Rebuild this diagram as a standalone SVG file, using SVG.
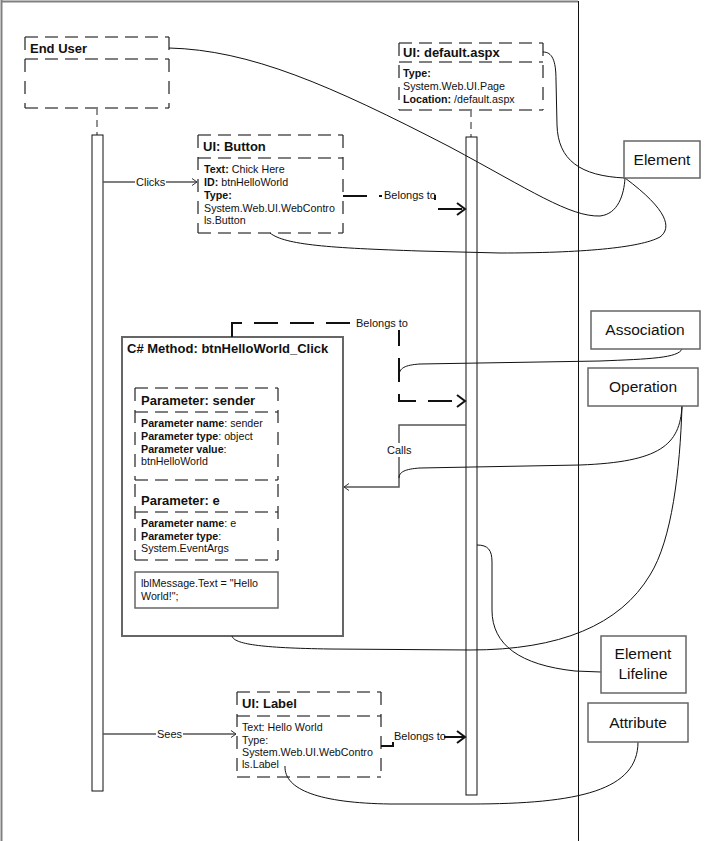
<svg xmlns="http://www.w3.org/2000/svg" width="718" height="841" viewBox="0 0 718 841">
<defs>
<style>
text{font-family:"Liberation Sans",Arial,sans-serif;fill:#111}
.h{font-size:13px;font-weight:bold}
.b{font-size:10.7px}
.bb{font-weight:bold}
.cl{font-size:11px}
.nl{font-size:15.5px;text-anchor:middle}
.dh{stroke:#808080;stroke-width:2;stroke-dasharray:13 7;fill:none}
.dv{stroke:#222;stroke-width:1.2;stroke-dasharray:13 9;fill:none}
.bg{fill:#fff;stroke:none}
.bar{fill:#fff;stroke:#111;stroke-width:1}
.ll{stroke:#222;stroke-width:1;stroke-dasharray:7 5;fill:none}
.msg{stroke:#555;stroke-width:1.5;fill:none}
.bel{stroke:#111;stroke-width:2;stroke-dasharray:24 12;fill:none}
.note{stroke:#111;stroke-width:1;fill:none}
.nbox{fill:#fff;stroke:#666;stroke-width:1.5}
.sbox{fill:#fff;stroke:#666;stroke-width:2}
</style>
<marker id="thin" markerUnits="userSpaceOnUse" markerWidth="10" markerHeight="10" refX="7" refY="5" orient="auto"><path d="M2,1.5 L7,5 L2,8.5" fill="none" stroke="#333" stroke-width="1"/></marker>
<marker id="thick" markerUnits="userSpaceOnUse" markerWidth="14" markerHeight="14" refX="10" refY="7" orient="auto"><path d="M2,1 L10,7 L2,13" fill="none" stroke="#111" stroke-width="2"/></marker>
</defs>
<rect width="718" height="841" fill="#fff"/>
<g id="frame">
<line x1="1.5" y1="0" x2="1.5" y2="841" stroke="#808080" stroke-width="2"/>
<line x1="1" y1="1.5" x2="578" y2="1.5" stroke="#808080" stroke-width="2"/>
<line x1="578.5" y1="1" x2="578.5" y2="841" stroke="#111" stroke-width="1"/>
</g>
<g id="lifelines">
<line class="ll" x1="97" y1="108" x2="97" y2="135"/>
<rect class="bar" x="92" y="135" width="11" height="656"/>
<line class="ll" x1="471" y1="110" x2="471" y2="137"/>
<rect class="bar" x="466" y="137" width="11" height="658"/>
</g>
<g id="end-user">
<rect class="bg" x="25" y="37" width="144" height="71"/>
<line class="dh" x1="25" y1="37" x2="169" y2="37"/>
<line class="dh" x1="25" y1="59" x2="169" y2="59"/>
<line class="dh" x1="25" y1="108" x2="169" y2="108"/>
<line class="dv" x1="25" y1="37" x2="25" y2="108"/>
<line class="dv" x1="169" y1="37" x2="169" y2="108"/>
<text class="h" x="30" y="53">End User</text>
</g>
<g id="ui-default">
<rect class="bg" x="399" y="43" width="144" height="67"/>
<line class="dh" x1="399" y1="43" x2="543" y2="43"/>
<line class="dh" x1="399" y1="62" x2="543" y2="62"/>
<line class="dh" x1="399" y1="110" x2="543" y2="110"/>
<line class="dv" x1="399" y1="43" x2="399" y2="110"/>
<line class="dv" x1="543" y1="43" x2="543" y2="110"/>
<text class="h" x="403" y="57">UI: default.aspx</text>
<text class="b" x="403" y="77"><tspan class="bb">Type:</tspan></text>
<text class="b" x="403" y="90">System.Web.UI.Page</text>
<text class="b" x="403" y="103"><tspan class="bb">Location:</tspan> /default.aspx</text>
</g>
<g id="ui-button">
<rect class="bg" x="198" y="135" width="145" height="98"/>
<line class="dh" x1="198" y1="135" x2="343" y2="135"/>
<line class="dh" x1="198" y1="158" x2="343" y2="158"/>
<line class="dh" x1="198" y1="233" x2="343" y2="233"/>
<line class="dv" x1="198" y1="135" x2="198" y2="233"/>
<line class="dv" x1="343" y1="135" x2="343" y2="233"/>
<text class="h" x="203" y="151">UI: Button</text>
<text class="b" x="204" y="173"><tspan class="bb">Text:</tspan> Chick Here</text>
<text class="b" x="204" y="186"><tspan class="bb">ID:</tspan> btnHelloWorld</text>
<text class="b" x="204" y="199"><tspan class="bb">Type:</tspan></text>
<text class="b" x="204" y="212">System.Web.UI.WebContro</text>
<text class="b" x="204" y="224">ls.Button</text>
</g>
<g id="method">
<rect class="sbox" x="122" y="337" width="221" height="299"/>
<text class="h" x="127" y="353">C# Method: btnHelloWorld_Click</text>
</g>
<g id="param-sender">
<rect class="bg" x="135" y="388" width="143" height="92"/>
<line class="dh" x1="135" y1="388" x2="278" y2="388"/>
<line class="dh" x1="135" y1="412" x2="278" y2="412"/>
<line class="dh" x1="135" y1="480" x2="278" y2="480"/>
<line class="dv" x1="135" y1="388" x2="135" y2="480"/>
<line class="dv" x1="278" y1="388" x2="278" y2="480"/>
<text class="h" x="141" y="405">Parameter: sender</text>
<text class="b" x="141" y="427"><tspan class="bb">Parameter name</tspan>: sender</text>
<text class="b" x="141" y="440"><tspan class="bb">Parameter type</tspan>: object</text>
<text class="b" x="141" y="453"><tspan class="bb">Parameter value</tspan>:</text>
<text class="b" x="141" y="465">btnHelloWorld</text>
</g>
<g id="param-e">
<line class="dh" x1="135" y1="512" x2="278" y2="512"/>
<line class="dh" x1="135" y1="560" x2="278" y2="560"/>
<line class="dv" x1="135" y1="484" x2="135" y2="560"/>
<line class="dv" x1="278" y1="484" x2="278" y2="560"/>
<text class="h" x="141" y="505">Parameter: e</text>
<text class="b" x="141" y="527"><tspan class="bb">Parameter name</tspan>: e</text>
<text class="b" x="141" y="540"><tspan class="bb">Parameter type</tspan>:</text>
<text class="b" x="141" y="552">System.EventArgs</text>
</g>
<g id="code">
<rect class="nbox" x="135" y="572" width="143" height="36"/>
<text class="b" x="141" y="587">lblMessage.Text = "Hello</text>
<text class="b" x="141" y="600">World!";</text>
</g>
<g id="ui-label">
<rect class="bg" x="237" y="692" width="144" height="85"/>
<line class="dh" x1="237" y1="692" x2="381" y2="692"/>
<line class="dh" x1="237" y1="716" x2="381" y2="716"/>
<line class="dh" x1="237" y1="777" x2="381" y2="777"/>
<line class="dv" x1="237" y1="692" x2="237" y2="777"/>
<line class="dv" x1="381" y1="692" x2="381" y2="777"/>
<text class="h" x="242" y="708">UI: Label</text>
<text class="b" x="242" y="731">Text: Hello World</text>
<text class="b" x="242" y="744">Type:</text>
<text class="b" x="242" y="756">System.Web.UI.WebContro</text>
<text class="b" x="242" y="768">ls.Label</text>
</g>
<g id="connectors">
<path class="msg" d="M103,182 H197" marker-end="url(#thin)"/>
<rect class="bg" x="135" y="175" width="31" height="13"/>
<text class="cl" x="136" y="186">Clicks</text>
<path class="msg" d="M103,734 H236" marker-end="url(#thin)"/>
<rect class="bg" x="156" y="727" width="27" height="13"/>
<text class="cl" x="157" y="738">Sees</text>
<path class="msg" d="M466,425 H399 V487 H344" marker-end="url(#thin)"/>
<rect class="bg" x="385" y="443" width="28" height="14"/>
<text class="cl" x="387" y="454">Calls</text>
<path class="bel" d="M343,196 H435 V209 H465" marker-end="url(#thick)"/>
<rect class="bg" x="382" y="188" width="52" height="14"/>
<text class="cl" x="384" y="199">Belongs to</text>
<path class="bel" d="M232,337 V323 H399 V401 H465" marker-end="url(#thick)"/>
<rect class="bg" x="354" y="315" width="53" height="15"/>
<text class="cl" x="356" y="327">Belongs to</text>
<path class="bel" d="M381,746 H393 V737 H465" stroke-dasharray="none" marker-end="url(#thick)"/>
<rect class="bg" x="392" y="729" width="52" height="13"/>
<text class="cl" x="394" y="740">Belongs to</text>
</g>
<g id="notes">
<path class="note" d="M169,48 C250,50 330,85 450,147 C530,190 570,217 600,216 C618,214 624,195 625,178"/>
<path class="note" d="M543,52 C552,52 556,60 556,80 L557,125 C558,160 580,176 625,178"/>
<path class="note" d="M270,233 C285,245 330,248 420,251 L500,253 C580,253 640,248 660,237 C672,228 668,210 625,178"/>
<path class="note" d="M682,349 C678,358 650,359 600,361 L420,364 C405,365 399,368 399,376"/>
<path class="note" d="M682,406 C680,445 660,462 580,465 L420,468 C405,469 399,472 399,478"/>
<path class="note" d="M682,406 C680,470 672,540 650,575 C620,625 560,650 470,650 L330,649 C260,648 234,644 232,636"/>
<path class="note" d="M601,672 L575,671 C520,665 492,645 492,610 L492,562 C492,550 488,545 477,545"/>
<path class="note" d="M638,742 C638,790 580,804 470,804 L390,804 C320,803 284,790 285,766"/>
</g>
<g id="element">
<rect class="nbox" x="624" y="141" width="76" height="37"/>
<text class="nl" x="662" y="165">Element</text>
</g>
<g id="association">
<rect class="nbox" x="591" y="311" width="109" height="38"/>
<text class="nl" x="645" y="335">Association</text>
</g>
<g id="operation">
<rect class="nbox" x="588" y="368" width="110" height="38"/>
<text class="nl" x="643" y="392">Operation</text>
</g>
<g id="element-lifeline">
<rect class="nbox" x="601" y="636" width="85" height="57"/>
<text class="nl" x="643" y="659">Element</text>
<text class="nl" x="643" y="679">Lifeline</text>
</g>
<g id="attribute">
<rect class="nbox" x="588" y="703" width="100" height="39"/>
<text class="nl" x="638" y="728">Attribute</text>
</g>
</svg>
